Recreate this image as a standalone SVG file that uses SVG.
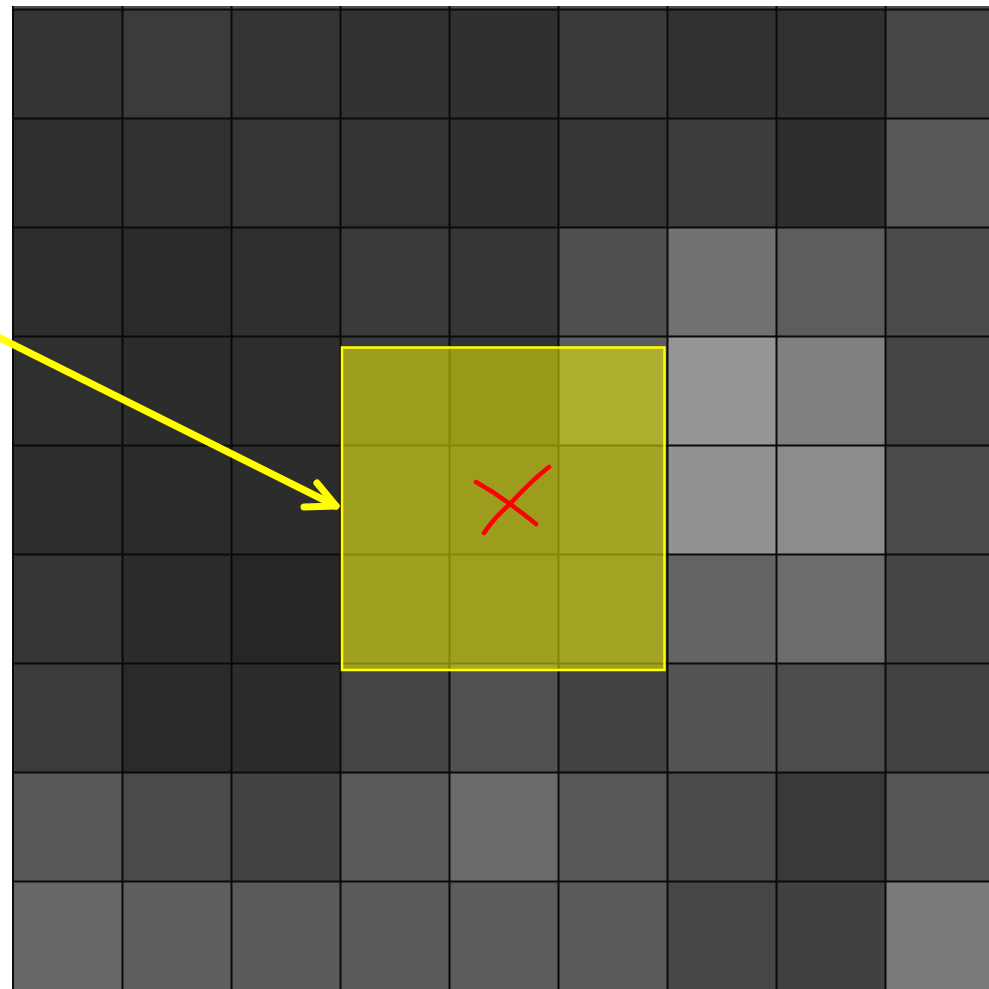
<svg xmlns="http://www.w3.org/2000/svg" width="989" height="989" viewBox="0 0 989 989">
<style>
.gl{stroke:#0a0a0a;stroke-width:2}
.arr{fill:none;stroke:#ffff00;stroke-width:7;stroke-linecap:round;stroke-linejoin:round}
.x{fill:none;stroke:#ff0000;stroke-width:4.5;stroke-linecap:round}
</style>
<rect width="989" height="989" fill="#ffffff"/>
<g id="cells">
<rect x="13" y="6" width="976" height="4" fill="#505050"/>
<rect x="13" y="9" width="110" height="110" fill="#343434"/>
<rect x="122" y="9" width="110" height="110" fill="#3b3b3b"/>
<rect x="231" y="9" width="110" height="110" fill="#333333"/>
<rect x="340" y="9" width="110" height="110" fill="#323232"/>
<rect x="449" y="9" width="110" height="110" fill="#303030"/>
<rect x="558" y="9" width="110" height="110" fill="#3a3a3a"/>
<rect x="667" y="9" width="110" height="110" fill="#313131"/>
<rect x="776" y="9" width="110" height="110" fill="#313131"/>
<rect x="885" y="9" width="104" height="110" fill="#464646"/>
<rect x="13" y="118" width="110" height="110" fill="#2f2f2f"/>
<rect x="122" y="118" width="110" height="110" fill="#313131"/>
<rect x="231" y="118" width="110" height="110" fill="#353535"/>
<rect x="340" y="118" width="110" height="110" fill="#333333"/>
<rect x="449" y="118" width="110" height="110" fill="#2f2f2f"/>
<rect x="558" y="118" width="110" height="110" fill="#363636"/>
<rect x="667" y="118" width="110" height="110" fill="#3c3c3c"/>
<rect x="776" y="118" width="110" height="110" fill="#2e2e2e"/>
<rect x="885" y="118" width="104" height="110" fill="#575757"/>
<rect x="13" y="227" width="110" height="110" fill="#2d2d2d"/>
<rect x="122" y="227" width="110" height="110" fill="#2a2a2a"/>
<rect x="231" y="227" width="110" height="110" fill="#2f2f2f"/>
<rect x="340" y="227" width="110" height="110" fill="#3a3a3a"/>
<rect x="449" y="227" width="110" height="110" fill="#363636"/>
<rect x="558" y="227" width="110" height="110" fill="#505050"/>
<rect x="667" y="227" width="110" height="110" fill="#727272"/>
<rect x="776" y="227" width="110" height="110" fill="#5d5d5d"/>
<rect x="885" y="227" width="104" height="110" fill="#4a4a4a"/>
<rect x="13" y="336" width="110" height="110" fill="#2f2f2f"/>
<rect x="122" y="336" width="110" height="110" fill="#2c2c2c"/>
<rect x="231" y="336" width="110" height="110" fill="#2d2d2d"/>
<rect x="340" y="336" width="110" height="110" fill="#3a3a3a"/>
<rect x="449" y="336" width="110" height="110" fill="#323232"/>
<rect x="558" y="336" width="110" height="110" fill="#5c5c5c"/>
<rect x="667" y="336" width="110" height="110" fill="#959595"/>
<rect x="776" y="336" width="110" height="110" fill="#808080"/>
<rect x="885" y="336" width="104" height="110" fill="#444444"/>
<rect x="13" y="445" width="110" height="110" fill="#2d2d2d"/>
<rect x="122" y="445" width="110" height="110" fill="#2b2b2b"/>
<rect x="231" y="445" width="110" height="110" fill="#2c2c2c"/>
<rect x="340" y="445" width="110" height="110" fill="#3e3e3e"/>
<rect x="449" y="445" width="110" height="110" fill="#3a3a3a"/>
<rect x="558" y="445" width="110" height="110" fill="#4a4a4a"/>
<rect x="667" y="445" width="110" height="110" fill="#929292"/>
<rect x="776" y="445" width="110" height="110" fill="#8c8c8c"/>
<rect x="885" y="445" width="104" height="110" fill="#4a4a4a"/>
<rect x="13" y="554" width="110" height="110" fill="#363636"/>
<rect x="122" y="554" width="110" height="110" fill="#2c2c2c"/>
<rect x="231" y="554" width="110" height="110" fill="#262626"/>
<rect x="340" y="554" width="110" height="110" fill="#404040"/>
<rect x="449" y="554" width="110" height="110" fill="#3e3e3e"/>
<rect x="558" y="554" width="110" height="110" fill="#484848"/>
<rect x="667" y="554" width="110" height="110" fill="#646464"/>
<rect x="776" y="554" width="110" height="110" fill="#6c6c6c"/>
<rect x="885" y="554" width="104" height="110" fill="#454545"/>
<rect x="13" y="663" width="110" height="110" fill="#3b3b3b"/>
<rect x="122" y="663" width="110" height="110" fill="#2a2a2a"/>
<rect x="231" y="663" width="110" height="110" fill="#2c2c2c"/>
<rect x="340" y="663" width="110" height="110" fill="#444444"/>
<rect x="449" y="663" width="110" height="110" fill="#525252"/>
<rect x="558" y="663" width="110" height="110" fill="#424242"/>
<rect x="667" y="663" width="110" height="110" fill="#545454"/>
<rect x="776" y="663" width="110" height="110" fill="#4c4c4c"/>
<rect x="885" y="663" width="104" height="110" fill="#424242"/>
<rect x="13" y="772" width="110" height="110" fill="#585858"/>
<rect x="122" y="772" width="110" height="110" fill="#4a4a4a"/>
<rect x="231" y="772" width="110" height="110" fill="#424242"/>
<rect x="340" y="772" width="110" height="110" fill="#595959"/>
<rect x="449" y="772" width="110" height="110" fill="#6a6a6a"/>
<rect x="558" y="772" width="110" height="110" fill="#575757"/>
<rect x="667" y="772" width="110" height="110" fill="#4a4a4a"/>
<rect x="776" y="772" width="110" height="110" fill="#393939"/>
<rect x="885" y="772" width="104" height="110" fill="#555555"/>
<rect x="13" y="881" width="110" height="108" fill="#666666"/>
<rect x="122" y="881" width="110" height="108" fill="#5e5e5e"/>
<rect x="231" y="881" width="110" height="108" fill="#5a5a5a"/>
<rect x="340" y="881" width="110" height="108" fill="#5a5a5a"/>
<rect x="449" y="881" width="110" height="108" fill="#5c5c5c"/>
<rect x="558" y="881" width="110" height="108" fill="#5a5a5a"/>
<rect x="667" y="881" width="110" height="108" fill="#464646"/>
<rect x="776" y="881" width="110" height="108" fill="#414141"/>
<rect x="885" y="881" width="104" height="108" fill="#7a7a7a"/>
</g>
<g id="gridlines" class="gl">
<line x1="13" y1="6" x2="13" y2="989"/>
<line x1="122.5" y1="6" x2="122.5" y2="989"/>
<line x1="231.5" y1="6" x2="231.5" y2="989"/>
<line x1="340.5" y1="6" x2="340.5" y2="989"/>
<line x1="449.5" y1="6" x2="449.5" y2="989"/>
<line x1="558.5" y1="6" x2="558.5" y2="989"/>
<line x1="667.5" y1="6" x2="667.5" y2="989"/>
<line x1="776.5" y1="6" x2="776.5" y2="989"/>
<line x1="885.5" y1="6" x2="885.5" y2="989"/>
<line x1="13" y1="9.5" x2="989" y2="9.5"/>
<line x1="13" y1="118.5" x2="989" y2="118.5"/>
<line x1="13" y1="227.5" x2="989" y2="227.5"/>
<line x1="13" y1="336.5" x2="989" y2="336.5"/>
<line x1="13" y1="445.5" x2="989" y2="445.5"/>
<line x1="13" y1="554.5" x2="989" y2="554.5"/>
<line x1="13" y1="663.5" x2="989" y2="663.5"/>
<line x1="13" y1="772.5" x2="989" y2="772.5"/>
<line x1="13" y1="881.5" x2="989" y2="881.5"/>
</g>
<g id="highlight">
<rect x="342" y="347.5" width="322.5" height="322.5" fill="#ffff00" fill-opacity="0.5" stroke="#ffff00" stroke-width="2.5"/>
</g>
<g id="connectors">
<path class="arr" d="M-4 336 L336 506"/>
<path class="arr" d="M317 483 L336 506 L304 507"/>
</g>
<g id="cross">
<path class="x" d="M476 482 Q494 492 510 504 Q525 515 536 524"/>
<path class="x" d="M484 533 Q494 518 510 504 Q532 480 549 467"/>
</g>
</svg>
